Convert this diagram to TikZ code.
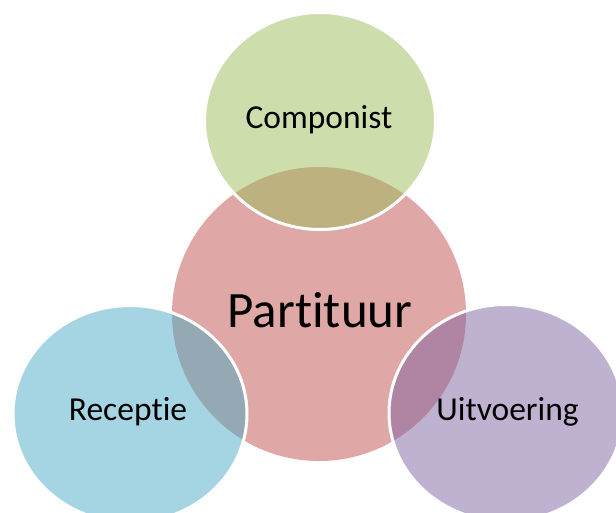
\documentclass[tikz,border=0pt]{standalone}
\usepackage{fontspec}
\setmainfont{Carlito}[Ligatures={NoCommon}]
\definecolor{partred}{HTML}{C0504D}
\definecolor{compgreen}{HTML}{9BBB59}
\definecolor{recblue}{HTML}{4BACC6}
\definecolor{uitpurple}{HTML}{8064A2}
\tikzset{
  bubble/.style={fill opacity=0.5, draw=white, draw opacity=1, line width=3pt},
  label/.style={text=black, anchor=base, inner sep=0pt, font=\fontsize{33.5}{40}\selectfont}
}
\begin{document}
\begin{tikzpicture}[x=1pt, y=-1pt]
    \useasboundingbox (0,0) rectangle (616,512);

    % Middelpunten van de cirkels
    \coordinate (P) at (319,314);   % Partituur
    \coordinate (C) at (320,121);   % Componist
    \coordinate (R) at (130,414);   % Receptie
    \coordinate (U) at (506,413);   % Uitvoering

    % Centrale cirkel (zonder rand)
    \fill[partred, fill opacity=0.5] (P) circle[radius=147pt];

    % Buitenste cirkels met witte rand
    \filldraw[bubble, fill=compgreen] (C) ellipse[x radius=115.5pt, y radius=108.5pt];
    \filldraw[bubble, fill=recblue] (R) ellipse[x radius=117pt, y radius=108.5pt];
    \filldraw[bubble, fill=uitpurple] (U) ellipse[x radius=117pt, y radius=108.5pt];

    % Teksten
    \node[label, font=\fontsize{51}{61}\selectfont] (partituur) at (320,327) {Partituur};
    \node[label] (componist) at (319,128) {Componist};
    \node[label] (receptie) at (128,420) {Receptie};
    \node[label] (uitvoering) at (507.5,420) {Uitvoering};

\end{tikzpicture}
\end{document}
